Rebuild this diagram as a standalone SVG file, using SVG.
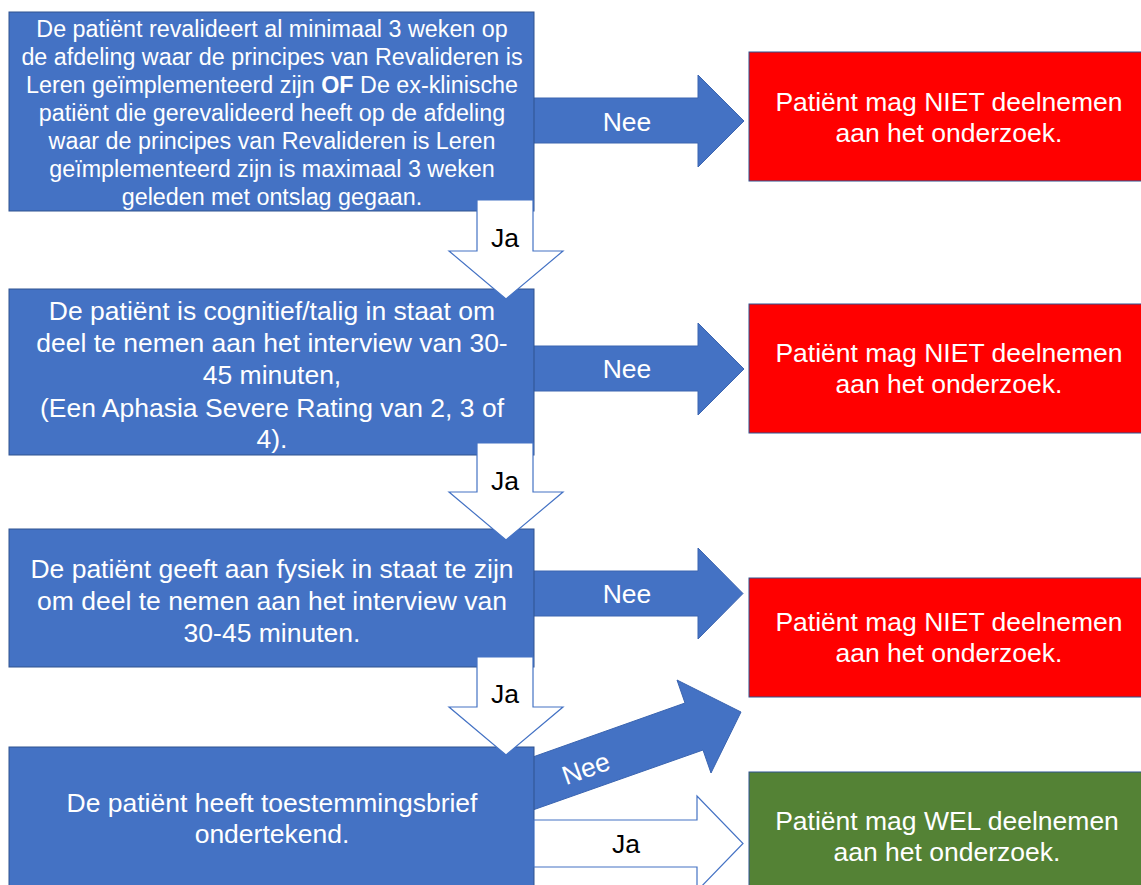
<svg xmlns="http://www.w3.org/2000/svg" width="1141" height="885" viewBox="0 0 1141 885">
<style>
.box{fill:#4472C4;stroke:#2F528F;stroke-width:1}
.red{fill:#FF0000;stroke:#2F528F;stroke-width:1}
.green{fill:#548235;stroke:#2F528F;stroke-width:1}
.barrow{fill:#4472C4;stroke:#3A64B0;stroke-width:1}
.warrow{fill:#FFFFFF;stroke:#4472C4;stroke-width:1.2}
text{font-family:"Liberation Sans",Arial,sans-serif;text-anchor:middle}
.wt{fill:#FFFFFF}
.bt{fill:#000000}
.f23{font-size:23.3px}
.f26{font-size:26.5px}
</style>
<rect width="1141" height="885" fill="#FFFFFF"/>

<g id="connectors">
  <polygon class="barrow" points="530,98 698,98 698,75 744,121 698,167 698,143 530,143"/>
  <text class="wt f26" x="627" y="131">Nee</text>
  <polygon class="barrow" points="530,346 698,346 698,323 744,369 698,415 698,391 530,391"/>
  <text class="wt f26" x="627" y="378">Nee</text>
  <polygon class="barrow" points="530,571 698,571 698,548 743,593.5 698,639 698,616 530,616"/>
  <text class="wt f26" x="627" y="603">Nee</text>
  <polygon class="barrow" points="530,758 685,703 677,680 741,712 711,773 703,750 530,811"/>
  <text class="wt f26" x="0" y="0" transform="translate(589,777) rotate(-19.6)">Nee</text>
</g>

<g id="n1">
  <rect class="box" x="9" y="12" width="525" height="199"/>
  <text class="wt f23" x="272" y="37">De patiënt revalideert al minimaal 3 weken op</text>
  <text class="wt f23" x="272" y="65">de afdeling waar de principes van Revalideren is</text>
  <text class="wt f23" x="272" y="93">Leren geïmplementeerd zijn <tspan font-weight="bold">OF</tspan> De ex-klinische</text>
  <text class="wt f23" x="272" y="121">patiënt die gerevalideerd heeft op de afdeling</text>
  <text class="wt f23" x="272" y="149">waar de principes van Revalideren is Leren</text>
  <text class="wt f23" x="272" y="177">geïmplementeerd zijn is maximaal 3 weken</text>
  <text class="wt f23" x="272" y="205">geleden met ontslag gegaan.</text>
</g>

<g id="n2">
  <rect class="box" x="9" y="289" width="525" height="166"/>
  <text class="wt f26" x="272" y="320">De patiënt is cognitief/talig in staat om</text>
  <text class="wt f26" x="272" y="352">deel te nemen aan het interview van 30-</text>
  <text class="wt f26" x="272" y="384">45 minuten,</text>
  <text class="wt f26" x="272" y="417">(Een Aphasia Severe Rating van 2, 3 of</text>
  <text class="wt f26" x="272" y="448">4).</text>
</g>

<g id="n3">
  <rect class="box" x="9" y="529" width="525" height="138"/>
  <text class="wt f26" x="272" y="578">De patiënt geeft aan fysiek in staat te zijn</text>
  <text class="wt f26" x="272" y="610">om deel te nemen aan het interview van</text>
  <text class="wt f26" x="272" y="642">30-45 minuten.</text>
</g>

<g id="n4">
  <rect class="box" x="9" y="747" width="525" height="145"/>
  <text class="wt f26" x="272" y="812">De patiënt heeft toestemmingsbrief</text>
  <text class="wt f26" x="272" y="843">ondertekend.</text>
</g>

<g id="r1">
  <rect class="red" x="749" y="52" width="400" height="129"/>
  <text class="wt f26" x="949" y="111">Patiënt mag NIET deelnemen</text>
  <text class="wt f26" x="949" y="142">aan het onderzoek.</text>
</g>
<g id="r2">
  <rect class="red" x="749" y="304" width="400" height="129"/>
  <text class="wt f26" x="949" y="362">Patiënt mag NIET deelnemen</text>
  <text class="wt f26" x="949" y="393">aan het onderzoek.</text>
</g>
<g id="r3">
  <rect class="red" x="749" y="578" width="400" height="119"/>
  <text class="wt f26" x="949" y="631">Patiënt mag NIET deelnemen</text>
  <text class="wt f26" x="949" y="662">aan het onderzoek.</text>
</g>
<g id="g1">
  <rect class="green" x="749" y="772" width="400" height="120"/>
  <text class="wt f26" x="947" y="830">Patiënt mag WEL deelnemen</text>
  <text class="wt f26" x="947" y="861">aan het onderzoek.</text>
</g>

<g id="ja-connectors">
  <polygon class="warrow" points="477,200 533,200 533,251 563,251 506,299 449,251 477,251"/>
  <text class="bt f26" x="505" y="247">Ja</text>
  <polygon class="warrow" points="477,443 533,443 533,492 563,492 506,540 449,492 477,492"/>
  <text class="bt f26" x="505" y="490">Ja</text>
  <polygon class="warrow" points="477,657 533,657 533,707 563,707 506,755 449,707 477,707"/>
  <text class="bt f26" x="505" y="703">Ja</text>
  <polygon class="warrow" points="534,820 697,820 697,796 743,843.5 697,891 697,867 534,867"/>
  <text class="bt f26" x="626" y="853">Ja</text>
</g>
</svg>
